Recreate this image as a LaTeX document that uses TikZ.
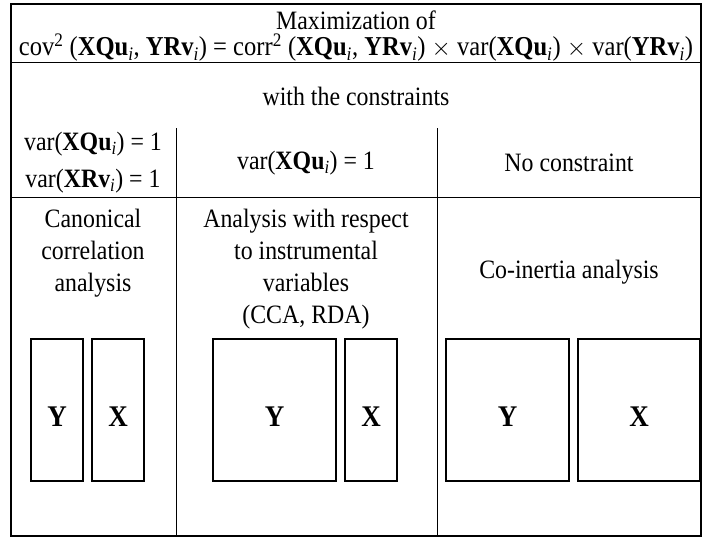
\documentclass[tikz,border=0pt]{standalone}
\usepackage{fontspec}
\setmainfont{Liberation Serif}[FakeStretch=0.9]
\usepackage{tikz}
\newcommand{\mati}[1]{\textbf{#1}\textsubscript{\textit{i}}}

\begin{document}
\begin{tikzpicture}[x=1pt,y=1pt]
	\tikzstyle{every node}+=[inner sep=0pt, font=\fontsize{26.5}{32}\selectfont]
	\tikzstyle{block}=[draw, line width=1.5pt, text height=32pt, text depth=0pt, font=\fontsize{30}{30}\selectfont\bfseries]
	\useasboundingbox (0,0) rectangle (702,-538);
	\draw [black, line width=2.5pt] (11,-4) rectangle (701,-536);
	\draw [black, line width=1pt] (11,-62) -- (701,-62);
	\draw [black, line width=1pt] (11,-197) -- (701,-197);
	\draw [black, line width=1pt] (176,-128) -- (176,-536);
	\draw [black, line width=1pt] (437,-128) -- (437,-536);
	\draw (356,-20) node (title) {Maximization of};
	\draw (356,-48) node [font=\fontsize{27.3}{32}\selectfont] (crit) {cov\textsuperscript{2} (\mati{XQu}, \mati{YRv}) = corr\textsuperscript{2} (\mati{XQu}, \mati{YRv}) $\times$ var(\mati{XQu}) $\times$ var(\mati{YRv})};
	\draw (356,-96) node (with) {with the constraints};
	\draw (93,-144) node (cu) {var(\mati{XQu}) = 1};
	\draw (93,-181) node (cv) {var(\mati{XRv}) = 1};
	\draw (306,-163) node (iu) {var(\mati{XQu}) = 1};
	\draw (569,-163) node (none) {No constraint};
	\draw (93,-253) node [align=center] (cca) {Canonical\\correlation\\analysis};
	\draw (306,-269) node [align=center] (iva) {Analysis with respect\\to instrumental\\variables\\(CCA, RDA)};
	\draw (569,-272) node (coia) {Co-inertia analysis};
	\draw (57,-410) node [block, minimum width=52, minimum height=142] (y1) {Y};
	\draw (118,-410) node [block, minimum width=52, minimum height=142] (x1) {X};
	\draw (274.5,-410) node [block, minimum width=123, minimum height=142] (y2) {Y};
	\draw (371,-410) node [block, minimum width=52, minimum height=142] (x2) {X};
	\draw (507.5,-410) node [block, minimum width=123, minimum height=142] (y3) {Y};
	\draw (639,-410) node [block, minimum width=122, minimum height=142] (x3) {X};
\end{tikzpicture}
\end{document}
